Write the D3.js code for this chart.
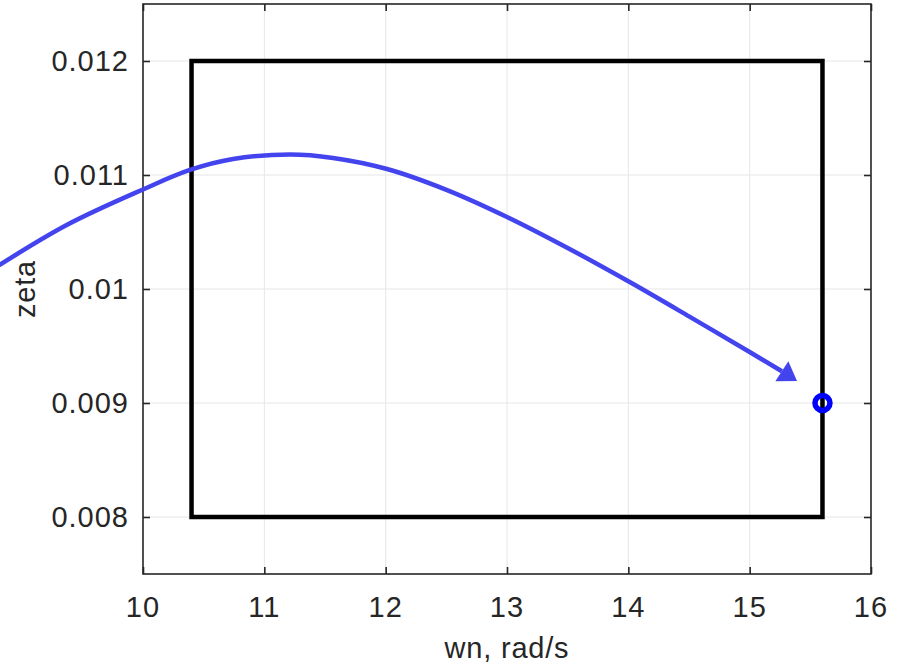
<!DOCTYPE html>
<html>
<head>
<meta charset="utf-8">
<script src="https://cdn.jsdelivr.net/npm/d3@7/dist/d3.min.js"></script>
<style>
  html, body { margin: 0; padding: 0; background: #fff; }
  svg { display: block; }
  text { font-family: "Liberation Sans", Arial, Helvetica, sans-serif; fill: #262626; }
</style>
</head>
<body>
<script>
// Axis ticks
const xTicks = [10, 11, 12, 13, 14, 15, 16];
const yTicks = [0.008, 0.009, 0.01, 0.011, 0.012];
const yTickLabels = ["0.008", "0.009", "0.01", "0.011", "0.012"];

// Design region bounds (wn, zeta)
const boxWn = [10.4, 15.6];
const boxZeta = [0.008, 0.012];

// Current design point
const pointWn = [15.6];
const pointZeta = [0.009];

// Trajectory path (wn, zeta); last entry is the arrow tip
const pathWn =   [8.739, 9.371, 10.0, 10.387, 10.742, 11.212, 11.566, 12.011, 12.506, 13.0, 13.5, 14.011, 14.5, 15.0, 15.275, 15.39];
const pathZeta = [0.010158, 0.010561, 0.010873, 0.011044, 0.01114, 0.01118, 0.01115, 0.011053, 0.010868, 0.010632, 0.01036, 0.010061, 0.00976, 0.009447, 0.009272, 0.009193];

const W = 903, H = 665;
const L = 143, R = 871, T = 4, B = 574;

const svg = d3.select("body").append("svg").attr("width", W).attr("height", H);

const x = d3.scaleLinear().domain([10, 16]).range([L, R]);
const y = d3.scaleLinear().domain([0.0075, 0.0125]).range([B, T]);

// Grid
const grid = svg.append("g").attr("stroke", "#e6e6e6").attr("stroke-width", 1);
grid.selectAll(".gx").data(xTicks.slice(1, -1)).join("line")
  .attr("x1", d => x(d)).attr("x2", d => x(d)).attr("y1", T).attr("y2", B);
grid.selectAll(".gy").data(yTicks).join("line")
  .attr("y1", d => y(d)).attr("y2", d => y(d)).attr("x1", L).attr("x2", R);

// Axes (ticks pointing inward, mirrored on top and right)
const tickLen = 7;
const axisColor = "#262626";
const gxB = svg.append("g").attr("transform", `translate(0,${B})`)
  .call(d3.axisTop(x).tickValues(xTicks).tickSize(tickLen).tickFormat(""));
const gxT = svg.append("g").attr("transform", `translate(0,${T})`)
  .call(d3.axisBottom(x).tickValues(xTicks).tickSize(tickLen).tickFormat(""));
const gyL = svg.append("g").attr("transform", `translate(${L},0)`)
  .call(d3.axisRight(y).tickValues(yTicks).tickSize(tickLen).tickFormat(""));
const gyR = svg.append("g").attr("transform", `translate(${R},0)`)
  .call(d3.axisLeft(y).tickValues(yTicks).tickSize(tickLen).tickFormat(""));
[gxB, gxT, gyL, gyR].forEach(g => {
  g.selectAll("path.domain").remove();
  g.selectAll("line").attr("stroke", axisColor).attr("stroke-width", 1.6);
});
svg.append("rect").attr("x", L).attr("y", T).attr("width", R - L).attr("height", B - T)
  .attr("fill", "none").attr("stroke", axisColor).attr("stroke-width", 1.6);

// Tick labels
svg.append("g").selectAll("text").data(xTicks).join("text")
  .attr("x", d => x(d)).attr("y", 617)
  .attr("text-anchor", "middle").attr("font-size", 29).attr("letter-spacing", 1)
  .text(d => d);
svg.append("g").selectAll("text").data(yTicks).join("text")
  .attr("x", 129).attr("y", d => y(d) + 10)
  .attr("text-anchor", "end").attr("font-size", 29).attr("letter-spacing", 1)
  .text((d, i) => yTickLabels[i]);

// Axis labels
svg.append("text").attr("x", (L + R) / 2).attr("y", 658)
  .attr("text-anchor", "middle").attr("font-size", 29).attr("letter-spacing", 0.8)
  .text("wn, rad/s");
svg.append("text").attr("transform", `translate(35,${(T + B) / 2}) rotate(-90)`)
  .attr("text-anchor", "middle").attr("font-size", 29).attr("letter-spacing", 0.8)
  .text("zeta");

// Design region rectangle
svg.append("rect")
  .attr("x", x(boxWn[0])).attr("y", y(boxZeta[1]))
  .attr("width", x(boxWn[1]) - x(boxWn[0])).attr("height", y(boxZeta[0]) - y(boxZeta[1]))
  .attr("fill", "none").attr("stroke", "#000").attr("stroke-width", 4.5);

// Trajectory with arrowhead
const pathColor = "#4444EE";
const pts = pathWn.map((w, i) => [x(w), y(pathZeta[i])]);
const tip = pts[pts.length - 1];
const prev = pts[pts.length - 2];
const dx = tip[0] - prev[0], dy = tip[1] - prev[1];
const len = Math.hypot(dx, dy);
const ux = dx / len, uy = dy / len;
const headLen = 18, headHalf = 12;
const base = [tip[0] - ux * headLen, tip[1] - uy * headLen];
const linePts = pts.slice(0, -2).concat([base]);

svg.append("path")
  .attr("d", d3.line().curve(d3.curveCatmullRom.alpha(0.5))(linePts))
  .attr("fill", "none").attr("stroke", pathColor).attr("stroke-width", 4.5);
svg.append("path")
  .attr("d", `M${tip[0]},${tip[1]}L${base[0] - uy * headHalf},${base[1] + ux * headHalf}L${base[0] + uy * headHalf},${base[1] - ux * headHalf}Z`)
  .attr("fill", pathColor);

// Design point marker
svg.append("g").selectAll("circle").data(pointWn).join("circle")
  .attr("cx", d => x(d)).attr("cy", (d, i) => y(pointZeta[i]))
  .attr("r", 7.5).attr("fill", "none").attr("stroke", "#0000FF").attr("stroke-width", 5.5);
</script>
</body>
</html>
